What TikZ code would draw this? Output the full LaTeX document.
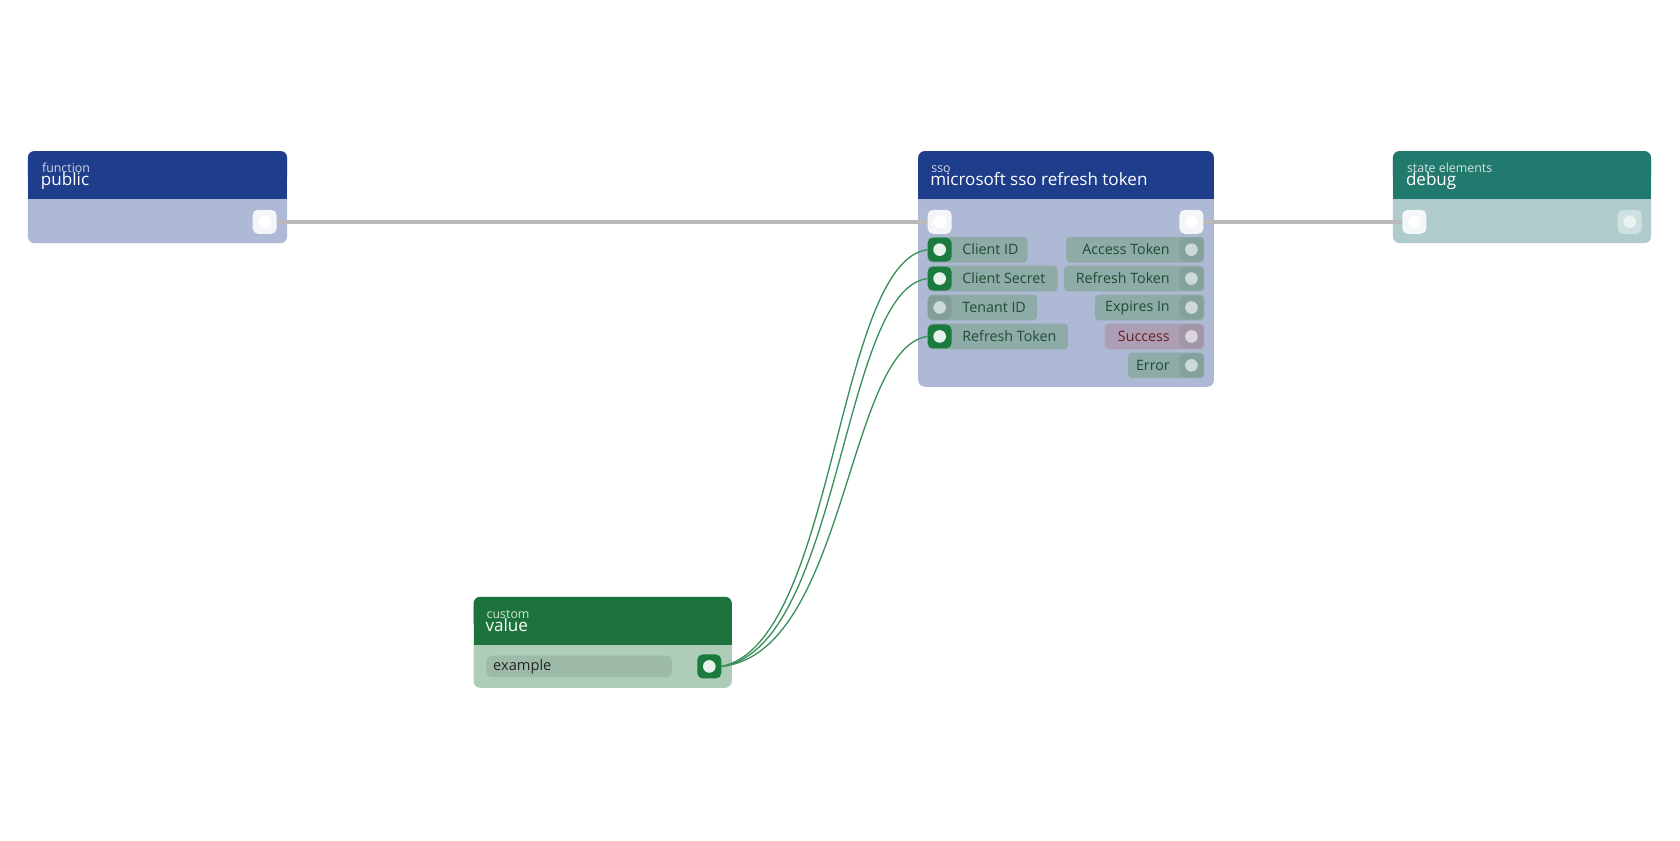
\documentclass[tikz,border=0pt]{standalone}
\usepackage{fontspec}
\setmainfont{Open Sans}
\begin{document}
\begin{tikzpicture}[x=0.8036pt,y=-0.8036pt,
  pill/.style={fill=pillc,rounded corners=3pt},
  lbl/.style={font=\fontsize{10.7}{12}\selectfont,text=pilltext,inner sep=0pt},
  exec/.style={draw=gray!55,line width=3.2pt},
  wire/.style={draw=wirec,line width=1pt}]
\definecolor{hblue}{HTML}{1E3D8A}
\definecolor{bblue}{HTML}{AEBAD5}
\definecolor{hteal}{HTML}{227A6E}
\definecolor{bteal}{HTML}{AFCBCB}
\definecolor{hgreen}{HTML}{1C733B}
\definecolor{bgreen}{HTML}{ADCDB8}
\definecolor{pillc}{HTML}{8EABA7}
\definecolor{pilltext}{HTML}{1E4D33}
\definecolor{succ}{HTML}{AC9FB3}
\definecolor{succtext}{HTML}{6B1C24}
\definecolor{pgreen}{HTML}{1B7A3E}
\definecolor{wirec}{HTML}{3A8F5A}
\definecolor{fieldc}{HTML}{9DBBA8}
\useasboundingbox (0,0) rectangle (1568,784);
\newcommand{\gnode}[6]{%
  \fill[#6,rounded corners=5pt] (#1,#2) rectangle (#3,#4);
  \fill[#5,rounded corners=5pt] (#1,#2) rectangle (#3,#2+30);
  \fill[#5] (#1,#2+20) rectangle (#3,#2+45);}
\gnode{26}{141}{268}{227}{hblue}{bblue}
\gnode{857}{141}{1133}{361}{hblue}{bblue}
\gnode{1300}{141}{1541}{227}{hteal}{bteal}
\gnode{442}{557}{683}{642}{hgreen}{bgreen}
\tikzset{sub/.style={anchor=base west,inner sep=0pt,font=\fontsize{9.3}{10}\selectfont},
  ttl/.style={anchor=base west,inner sep=0pt,text=white,font=\fontsize{12.8}{14}\selectfont}}
\node[sub,text=white!80!hblue] (tpub) at (39,161) {function};
\node[ttl] (npub) at (38,173) {public};
\node[sub,text=white!80!hblue] (tsso) at (869,161) {sso};
\node[ttl] (nsso) at (868,173) {microsoft sso refresh token};
\node[sub,text=white!80!hteal] (tdbg) at (1313,161) {state elements};
\node[ttl] (ndbg) at (1312,173) {debug};
\node[sub,text=white!80!hgreen] (tval) at (454,577) {custom};
\node[ttl] (nval) at (453,589) {value};
\fill[fieldc,rounded corners=4pt] (454,612) rectangle (627,632);
\node[anchor=west,inner sep=0pt,font=\fontsize{11}{12}\selectfont,text=black!85] (fex) at (460,622) {example};
\fill[pill] (866,221) rectangle (959,245);
\fill[pill] (866,248) rectangle (987,272);
\fill[pill] (866,275) rectangle (968,299);
\fill[pill] (866,302) rectangle (997,326);
\node[lbl,anchor=west] (i1) at (898,233) {Client ID};
\node[lbl,anchor=west] (i2) at (898,260) {Client Secret};
\node[lbl,anchor=west] (i3) at (898,287) {Tenant ID};
\node[lbl,anchor=west] (i4) at (898,314) {Refresh Token};
\fill[pill] (995,221) rectangle (1124,245);
\fill[pill] (993,248) rectangle (1124,272);
\fill[pill] (1022,275) rectangle (1124,299);
\fill[succ,rounded corners=3pt] (1031,302) rectangle (1124,326);
\fill[pill] (1053,329) rectangle (1124,353);
\node[lbl,anchor=east] (o1) at (1092,233) {Access Token};
\node[lbl,anchor=east] (o2) at (1092,260) {Refresh Token};
\node[lbl,anchor=east] (o3) at (1092,287) {Expires In};
\node[lbl,anchor=east,text=succtext] (o4) at (1092,314) {Success};
\node[lbl,anchor=east] (o5) at (1092,341) {Error};
\tikzset{port/.style={minimum size=18pt,inner sep=0pt,rounded corners=4pt,fill=#1},
  dot/.style={circle,minimum size=9.5pt,inner sep=0pt,fill=#1}}
\newcommand{\port}[4]{\node[port=#3] (#1) at #2 {}; \node[dot=#4] at #2 {};}
\port{ppubx}{(247,207)}{white!85!bblue}{white}
\port{pssoin}{(877,207)}{white!85!bblue}{white}
\port{pssoout}{(1112,207)}{white!85!bblue}{white}
\port{pdbgin}{(1320,207)}{white!85!bteal}{white}
\port{pdbgout}{(1521,207)}{white!40!bteal}{white!75!bteal}
\port{pi1}{(877,233)}{pgreen}{white!90!pgreen}
\port{pi2}{(877,260)}{pgreen}{white!90!pgreen}
\port{pi3}{(877,287)}{black!8!pillc}{white!55!pillc}
\port{pi4}{(877,314)}{pgreen}{white!90!pgreen}
\port{po1}{(1112,233)}{black!6!pillc}{white!55!pillc}
\port{po2}{(1112,260)}{black!6!pillc}{white!55!pillc}
\port{po3}{(1112,287)}{black!6!pillc}{white!55!pillc}
\port{po4}{(1112,314)}{black!6!succ}{white!55!succ}
\port{po5}{(1112,341)}{black!6!pillc}{white!55!pillc}
\port{pval}{(662,622)}{pgreen}{white!90!pgreen}
\draw[exec] (ppubx.east) -- (pssoin.west);
\draw[exec] (pssoout.east) -- (pdbgin.west);
\draw[wire] (pval.east) .. controls (780,600) and (780,245) .. (pi1.west);
\draw[wire] (pval.east) .. controls (785,605) and (785,270) .. (pi2.west);
\draw[wire] (pval.east) .. controls (790,610) and (790,325) .. (pi4.west);
\end{tikzpicture}
\end{document}
